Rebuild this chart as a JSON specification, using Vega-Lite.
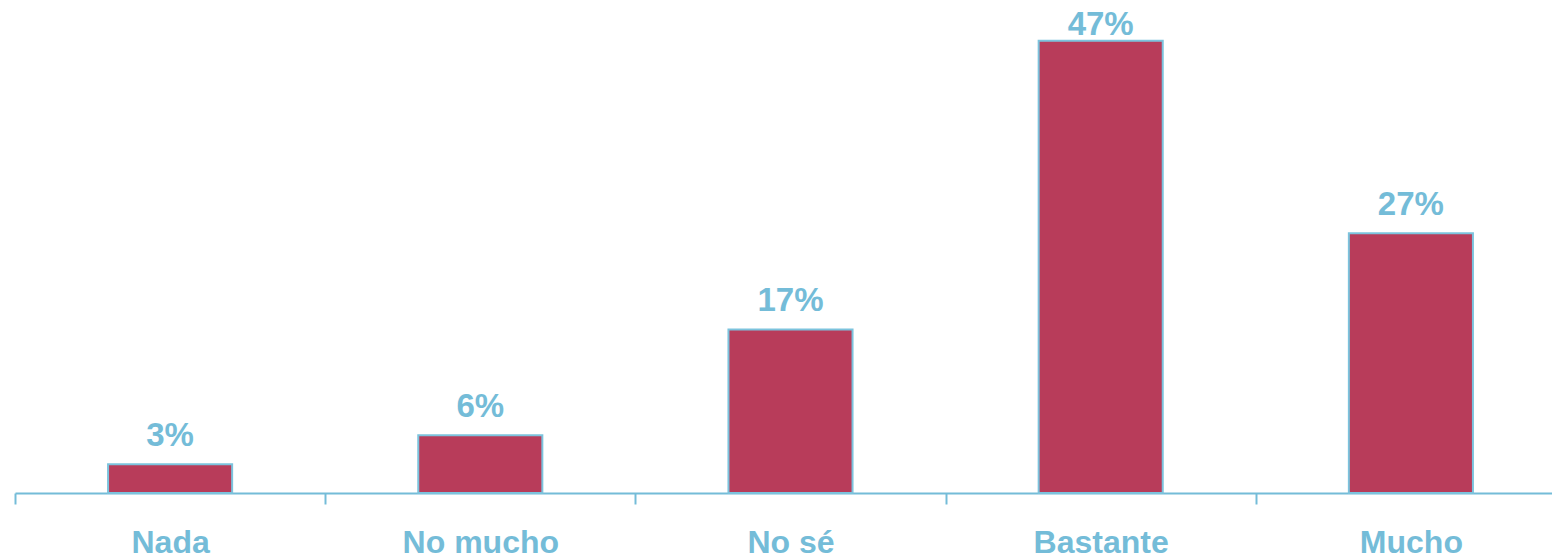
{
  "$schema": "https://vega.github.io/schema/vega-lite/v6.json",
  "width": 1551,
  "height": 481,
  "padding": {"left": 15, "top": 12, "right": 0, "bottom": 67},
  "autosize": {"type": "none"},
  "background": "white",
  "config": {
    "view": {"stroke": null},
    "font": "Liberation Sans"
  },
  "data": {
    "values": [
      {"respuesta": "Nada", "pct": 0.03},
      {"respuesta": "No mucho", "pct": 0.06},
      {"respuesta": "No sé", "pct": 0.17},
      {"respuesta": "Bastante", "pct": 0.47},
      {"respuesta": "Mucho", "pct": 0.27}
    ]
  },
  "encoding": {
    "x": {
      "field": "respuesta",
      "type": "nominal",
      "sort": null,
      "scale": {"paddingInner": 0, "paddingOuter": 0},
      "axis": {
        "title": null,
        "labelAngle": 0,
        "labelFont": "Liberation Sans",
        "labelFontSize": 32,
        "labelFontWeight": "bold",
        "labelColor": "#74bcd8",
        "labelPadding": 23,
        "labelBaseline": "top",
        "domainColor": "#74bcd8",
        "domainWidth": 2,
        "tickColor": "#74bcd8",
        "tickWidth": 2,
        "tickSize": 11,
        "tickBand": "extent"
      }
    },
    "y": {
      "field": "pct",
      "type": "quantitative",
      "scale": {"domain": [0, 0.5]},
      "axis": null
    }
  },
  "layer": [
    {
      "mark": {
        "type": "bar",
        "width": {"band": 0.4},
        "color": "#b83c5a",
        "stroke": "#7cc3dd",
        "strokeWidth": 2
      }
    },
    {
      "transform": [{"filter": "datum.pct < 0.4"}],
      "mark": {
        "type": "text",
        "baseline": "alphabetic",
        "dy": -18,
        "fontSize": 33,
        "fontWeight": "bold",
        "color": "#74bcd8"
      },
      "encoding": {
        "text": {"field": "pct", "type": "quantitative", "format": ".0%"}
      }
    },
    {
      "transform": [{"filter": "datum.pct >= 0.4"}],
      "mark": {
        "type": "text",
        "baseline": "alphabetic",
        "dy": -6,
        "fontSize": 33,
        "fontWeight": "bold",
        "color": "#74bcd8"
      },
      "encoding": {
        "text": {"field": "pct", "type": "quantitative", "format": ".0%"}
      }
    }
  ]
}
